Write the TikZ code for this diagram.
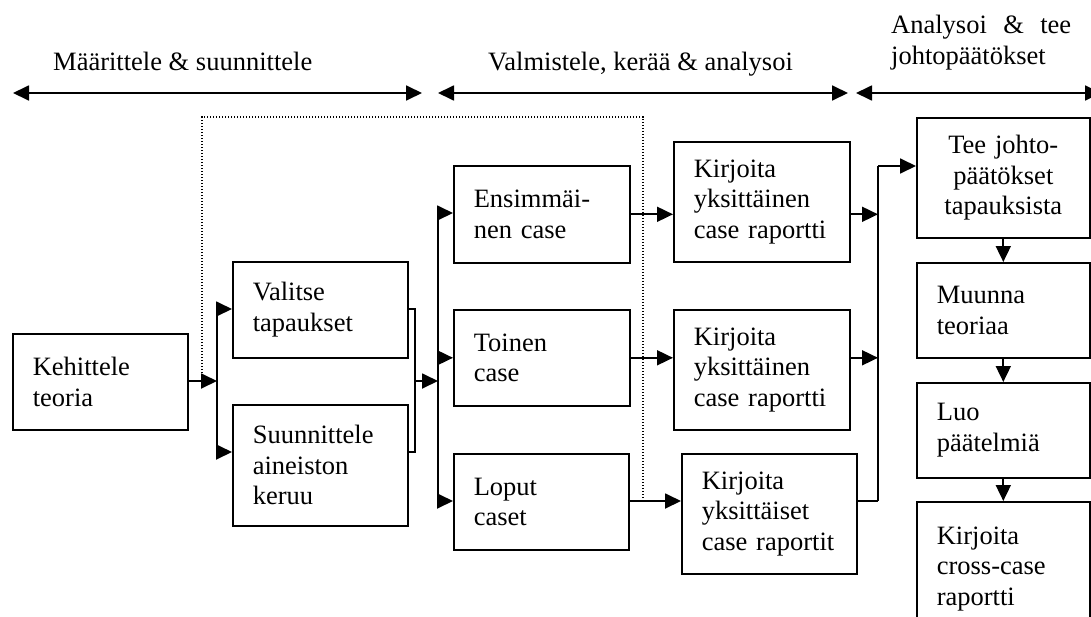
\documentclass[tikz,border=0pt]{standalone}
\usepackage{fontspec}
\setmainfont{Liberation Serif}
\usetikzlibrary{arrows.meta}
\begin{document}
\begin{tikzpicture}[x=1pt,y=-1pt,
  box/.style={draw, line width=1.6pt, anchor=north west, inner xsep=20pt, inner ysep=0pt,
    align=left, font=\fontsize{26.5}{30.5}\selectfont},
  conn/.style={line width=1.8pt},
  arr/.style={conn, -{Triangle[length=16pt,width=15pt]}},
  dbl/.style={conn, {Triangle[length=16pt,width=15pt]}-{Triangle[length=16pt,width=15pt]}},
  dots/.style={line width=1.3pt, dash pattern=on 1.3pt off 1.7pt},
  lbl/.style={anchor=base west, inner sep=0pt, font=\fontsize{26.5}{31}\selectfont}]
\useasboundingbox (0,0) rectangle (1091,616);

% phase labels and arrows
\node[lbl] (t1) at (53,70) {Määrittele \& suunnittele};
\node[lbl] (t2) at (488,70) {Valmistele, kerää \& analysoi};
\node[lbl] (t3a) at (891,33) {\hbox to 180pt{Analysoi\hfill\&\hfill tee}};
\node[lbl] (t3b) at (891,64) {johtopäätökset};
\coordinate (a1) at (13,93);  \coordinate (a2) at (422,93);
\coordinate (a3) at (438,93); \coordinate (a4) at (848,93);
\coordinate (a5) at (856,93); \coordinate (a6) at (1101,93);
\draw[dbl] (a1) -- (a2);
\draw[dbl] (a3) -- (a4);
\draw[dbl] (a5) -- (a6);

% boxes
\node[box, text width=135pt, minimum width=175pt, minimum height=96pt] (keh) at (12,333) {Kehittele\\teoria};
\node[box, text width=135pt, minimum width=175pt, minimum height=96pt] (val) at (232,261) {Valitse\\tapaukset};
\node[box, text width=135pt, minimum width=175pt, minimum height=121pt] (sun) at (232,404) {Suunnittele\\aineiston\\keruu};
\node[box, text width=136pt, minimum width=176pt, minimum height=97pt] (ens) at (453,165) {Ensimmäi-\\nen case};
\node[box, text width=136pt, minimum width=176pt, minimum height=96pt] (toi) at (453,309) {Toinen\\case};
\node[box, text width=135pt, minimum width=175pt, minimum height=96pt] (lop) at (453,453) {Loput\\caset};
\node[box, text width=136pt, minimum width=176pt, minimum height=120pt] (k1) at (673,141) {Kirjoita\\yksittäinen\\case raportti};
\node[box, text width=136pt, minimum width=176pt, minimum height=120pt] (k2) at (673,309) {Kirjoita\\yksittäinen\\case raportti};
\node[box, text width=135pt, minimum width=175pt, minimum height=120pt] (k3) at (681,453) {Kirjoita\\yksittäiset\\case raportit};
\node[box, align=center, inner xsep=10pt, text width=153pt, minimum width=173pt, minimum height=120pt] (tee) at (916,117) {Tee johto-\\päätökset\\tapauksista};
\node[box, text width=133pt, minimum width=173pt, minimum height=95pt] (muu) at (916,262) {Muunna\\teoriaa};
\node[box, text width=133pt, minimum width=173pt, minimum height=95pt] (luo) at (916,382) {Luo\\päätelmiä};
\node[box, text width=133pt, minimum width=173pt, minimum height=134pt] (cro) at (916,501) {Kirjoita\\cross-case\\raportti};

% dotted outline
\coordinate (d1) at (202,376); \coordinate (d2) at (202,117);
\coordinate (d3) at (643,117); \coordinate (d4) at (643,499);
\draw[dots] (d1) -- (d2) -- (d3) -- (d4);

% first split
\coordinate (j1) at (217,381);
\coordinate (j1t) at (217,309);
\coordinate (j1b) at (217,452);
\draw[arr] (keh.east |- j1) -- (j1);
\draw[conn] (j1t) -- (j1b);
\draw[arr] (j1t) -- (j1t -| val.west);
\draw[arr] (j1b) -- (j1b -| sun.west);

% bracket and second split
\coordinate (b1) at (415,309);
\coordinate (b2) at (415,452);
\coordinate (b3) at (415,381);
\draw[conn] (val.east |- b1) -- (b1) -- (b2) -- (sun.east |- b2);
\coordinate (j2) at (438,381);
\coordinate (j2t) at (438,213);
\coordinate (j2b) at (438,501);
\draw[arr] (b3) -- (j2);
\draw[conn] (j2t) -- (j2b);
\draw[arr] (j2t) -- (j2t -| ens.west);
\draw[arr] (j2 |- toi.west) -- (toi.west);
\draw[arr] (j2b) -- (j2b -| lop.west);

% to reports
\draw[arr] (ens.east) -- (ens.east -| k1.west);
\draw[arr] (toi.east) -- (toi.east -| k2.west);
\draw[arr] (lop.east |- j2b) -- (j2b -| k3.west);

% collector
\coordinate (j3t) at (878,166);
\coordinate (j3b) at (878,501);
\draw[conn] (j3t) -- (j3b);
\draw[arr] (k1.east |- ens.east) -- (j3t |- ens.east);
\draw[arr] (k2.east |- toi.east) -- (j3t |- toi.east);
\draw[conn] (k3.east |- j3b) -- (j3b);
\draw[arr] (j3t) -- (j3t -| tee.west);

% right column
\draw[arr] (tee.south) -- (muu.north);
\draw[arr] (muu.south) -- (luo.north);
\draw[arr] (luo.south) -- (cro.north);
\end{tikzpicture}
\end{document}
